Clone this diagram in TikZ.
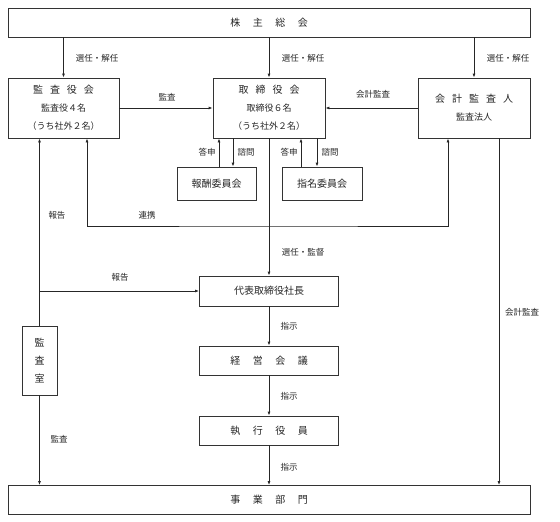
\documentclass[tikz,border=0pt]{standalone}
\usepackage{fontspec}
\setmainfont{Noto Sans CJK JP}
\usetikzlibrary{arrows.meta}

\newcommand{\gp}{\hspace{7pt}}
\newcommand{\wgp}{\hspace{12.5pt}}

\tikzset{
  box/.style={draw=black!80, line width=0.8pt, inner sep=0pt, align=center,
    text=black!85, font=\fontsize{10}{18}\selectfont},
  lbl/.style={inner sep=0pt, text=black!85, font=\fontsize{8.5}{10}\selectfont},
  line/.style={draw=black!85, line width=1pt},
}

\begin{document}
\begin{tikzpicture}[x=1pt,y=-1pt,>={Latex[length=4pt,width=3pt]}]
  \useasboundingbox (0,0) rectangle (560,522);

  \node (soukai)      at (269,22.5)  [box, minimum width=522pt, minimum height=29pt] {株\wgp 主\wgp 総\wgp 会};
  \node (kansayaku)   at (63.5,108)  [box, minimum width=111pt, minimum height=60pt]
    {監\gp 査\gp 役\gp 会\\{\fontsize{9}{18}\selectfont 監査役４名}\\{\fontsize{9}{18}\selectfont （うち社外２名）}};
  \node (torishimari) at (269,108)   [box, minimum width=112pt, minimum height=60pt]
    {取\gp 締\gp 役\gp 会\\{\fontsize{9}{18}\selectfont 取締役６名}\\{\fontsize{9}{18}\selectfont （うち社外２名）}};
  \node (kaikei)      at (474,108)   [box, minimum width=112pt, minimum height=60pt]
    {会\gp 計\gp 監\gp 査\gp 人\\{\fontsize{9}{18}\selectfont 監査法人}};
  \node (housyu)      at (216.5,183.5) [box, minimum width=79pt, minimum height=33pt] {報酬委員会};
  \node (shimei)      at (322,183.5) [box, minimum width=80pt, minimum height=33pt] {指名委員会};
  \node (shachou)     at (269,291)   [box, minimum width=139pt, minimum height=30pt] {代表取締役社長};
  \node (keiei)       at (269,360.5) [box, minimum width=139pt, minimum height=29pt] {経\wgp 営\wgp 会\wgp 議};
  \node (shikkou)     at (269,430.5) [box, minimum width=139pt, minimum height=29pt] {執\wgp 行\wgp 役\wgp 員};
  \node (kansashitsu) at (39.5,360.5) [box, minimum width=35pt, minimum height=69pt] {監\\査\\室};
  \node (jigyou)      at (269,500)   [box, minimum width=522pt, minimum height=29pt] {事\wgp 業\wgp 部\wgp 門};
  \coordinate (renkei) at (269,226);

  % selection by the shareholders
  \draw[line,->] (soukai.south -| kansayaku)   -- (kansayaku.north);
  \draw[line,->] (soukai.south -| torishimari) -- (torishimari.north);
  \draw[line,->] (soukai.south -| kaikei)      -- (kaikei.north);
  \node (sennin1) at (97,58)  [lbl] {選任・解任};
  \node (sennin2) at (303,58) [lbl] {選任・解任};
  \node (sennin3) at (508,58) [lbl] {選任・解任};

  \draw[line,->] (kansayaku.east) -- (torishimari.west);
  \draw[line,->] (kaikei.west) -- (torishimari.east);
  \node (kansa1)  at (167,97) [lbl] {監査};
  \node (kaikei1) at (373,94) [lbl] {会計監査};

  % committees
  \draw[line,->] (housyu.north -| 219,0) -- (torishimari.south -| 219,0);
  \draw[line,->] (torishimari.south -| 233,0) -- (housyu.north -| 233,0);
  \draw[line,->] (shimei.north -| 301,0) -- (torishimari.south -| 301,0);
  \draw[line,->] (torishimari.south -| 317,0) -- (shimei.north -| 317,0);
  \node (toushin1) at (207,152) [lbl] {答申};
  \node (shimon1)  at (246,152) [lbl] {諮問};
  \node (toushin2) at (289,152) [lbl] {答申};
  \node (shimon2)  at (330,152) [lbl] {諮問};

  \draw[line,<->] (kansayaku.south -| 87,0) |- (renkei) -| (kaikei.south -| 448,0);
  \node (renkeilbl) at (147,215) [lbl] {連携};

  \draw[line,->] (kansashitsu.north) -- (kansayaku.south -| kansashitsu);
  \draw[line,->] (kansashitsu.north |- shachou.west) -- (shachou.west);
  \node (houkoku1) at (57,215)  [lbl] {報告};
  \node (houkoku2) at (120,277) [lbl] {報告};

  \draw[line,->] (torishimari.south) -- (shachou.north);
  \node (kantoku) at (303,252) [lbl] {選任・監督};

  % line of command
  \draw[line,->] (shachou.south) -- (keiei.north);
  \draw[line,->] (keiei.south) -- (shikkou.north);
  \draw[line,->] (shikkou.south) -- (jigyou.north);
  \node (shiji1) at (289,326) [lbl] {指示};
  \node (shiji2) at (289,396) [lbl] {指示};
  \node (shiji3) at (289,467) [lbl] {指示};

  \draw[line,->] (kansashitsu.south) -- (jigyou.north -| kansashitsu);
  \node (kansa2) at (59,439) [lbl] {監査};
  \draw[line,->] (kaikei.south -| 499,0) -- (jigyou.north -| 499,0);
  \node (kaikei2) at (522,312) [lbl] {会計監査};
\end{tikzpicture}
\end{document}
